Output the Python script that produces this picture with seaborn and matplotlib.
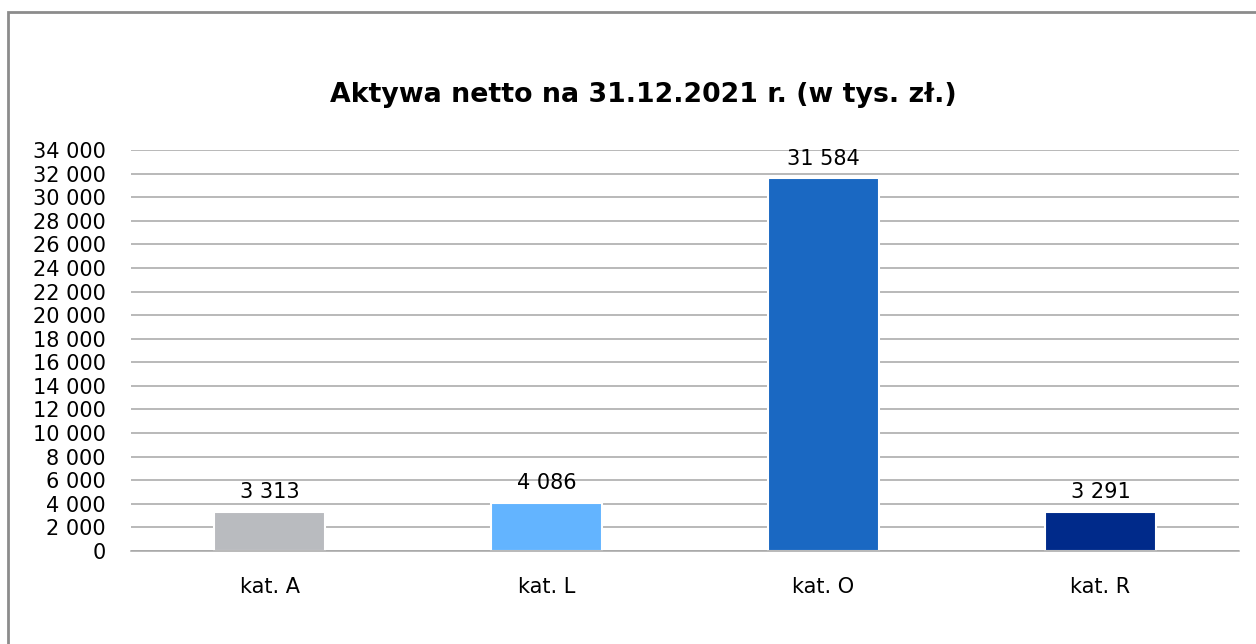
import matplotlib
matplotlib.use("Agg")
import matplotlib.pyplot as plt
import seaborn as sns
import pandas as pd
from matplotlib.patches import Rectangle

categories = ["kat. A", "kat. L", "kat. O", "kat. R"]
values = [3313, 4086, 31584, 3291]
colors = ["#B9BBBF", "#63B4FF", "#1A68C2", "#002A8A"]
title = "Aktywa netto na 31.12.2021 r. (w tys. zł.)"
yticks = list(range(0, 34001, 2000))

def fmt(v):
    return f"{int(v):,}".replace(",", " ")

sns.set_theme(style="white")
plt.rcParams['font.family'] = ['DejaVu Sans']

df = pd.DataFrame({"cat": categories, "val": values})

fig = plt.figure(figsize=(12.56, 6.44), dpi=100)
ax = fig.add_axes([131/1256, 93/644, (1239-131)/1256, 401/644])

sns.barplot(data=df, x="cat", y="val", hue="cat", palette=colors, legend=False,
            width=0.4, ax=ax, edgecolor="white", linewidth=1.5, saturation=1)

ax.set_xlim(-0.5, 3.5)
ax.set_ylim(0, 34000)
ax.set_yticks(yticks)
ax.set_yticklabels([fmt(v) for v in yticks], fontsize=15, color="#000000")
ax.yaxis.grid(True, color="#A6A6A6", linewidth=1.1)
ax.set_axisbelow(True)
ax.tick_params(axis="y", length=0, pad=18)
ax.set_xticks(range(len(categories)))
ax.set_xticklabels(categories, fontsize=15, color="#000000")
ax.tick_params(axis="x", which="major", length=0, pad=19)
ax.set_xticks([-0.5, 0.5, 1.5, 2.5, 3.5], minor=True)
ax.tick_params(axis="x", which="minor", length=8, width=1, color="#A6A6A6", direction="out")
ax.set_xlabel("")
ax.set_ylabel("")
for s in ["top", "right", "left"]:
    ax.spines[s].set_visible(False)
ax.spines["bottom"].set_color("#A6A6A6")
ax.spines["bottom"].set_linewidth(1.1)

for cont in ax.containers:
    ax.bar_label(cont, labels=[fmt(v) for v in cont.datavalues], padding=7,
                 fontsize=15, color="#000000")

fig.text(643/1256, 1 - 95/644, title, ha="center", va="center",
         fontsize=19.3, fontweight="bold", family=["DejaVu Sans"], color="#000000")

fig.patches.append(Rectangle((8/1256, -0.1), 1.2, 1 - 12/644 + 0.1, transform=fig.transFigure,
                             fill=False, edgecolor="#8C8C8C", linewidth=2))

fig.savefig("out.png", dpi=100)
